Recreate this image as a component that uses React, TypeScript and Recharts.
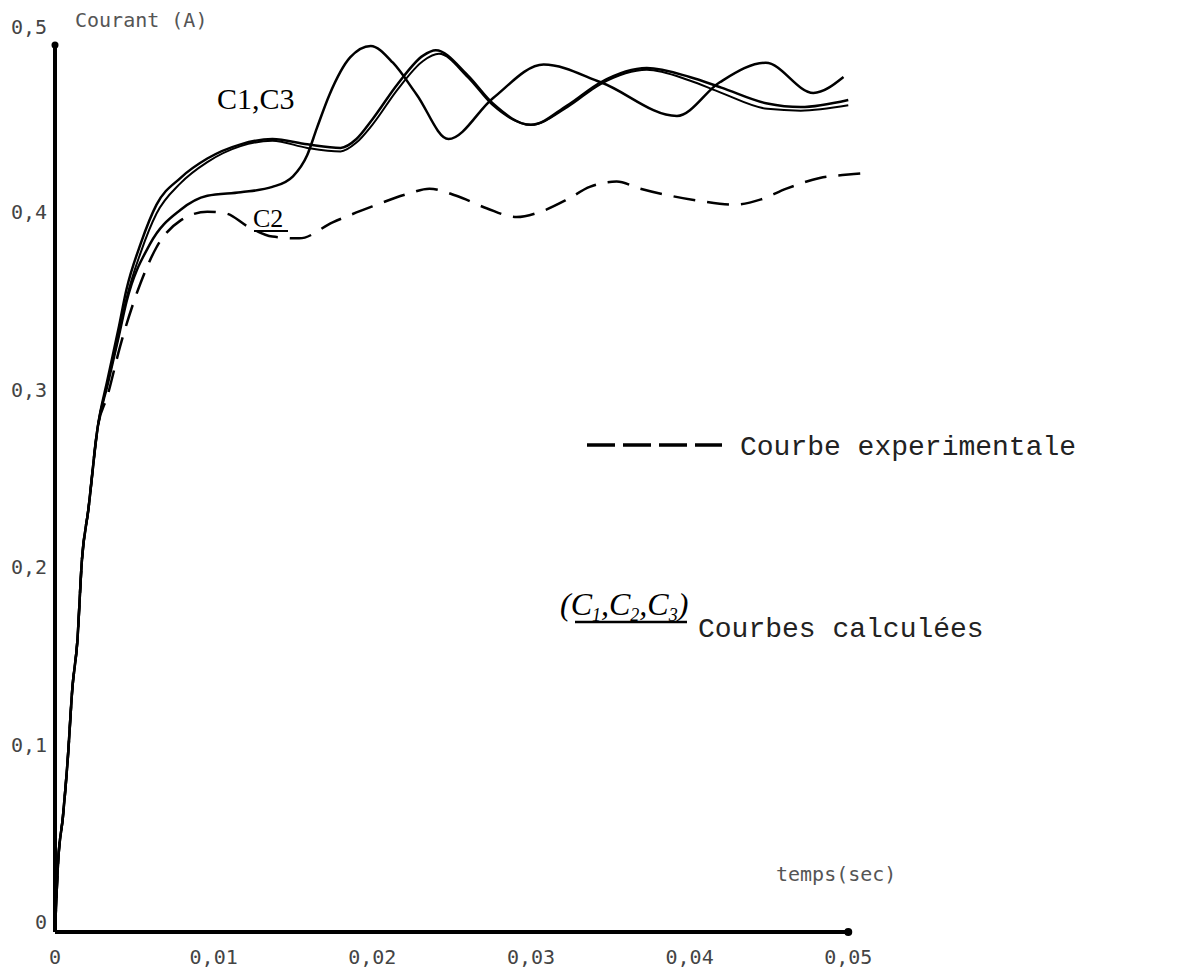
import { LineChart, Line, XAxis, YAxis, ReferenceLine, ReferenceDot, Customized } from 'recharts';

// temps (s) et courant (A)
const riseT = [0, 0.0002, 0.0005, 0.0008, 0.0011, 0.0014, 0.0017, 0.0021, 0.0027];
const riseV = [0, 0.04, 0.065, 0.097, 0.138, 0.163, 0.21, 0.238, 0.285];

const c1T = [0.0033, 0.004, 0.0045, 0.0054, 0.0064, 0.0079, 0.0096, 0.0117, 0.0137, 0.0159, 0.018, 0.019, 0.02, 0.0216, 0.0232, 0.024, 0.026, 0.0276, 0.03, 0.0323, 0.0344, 0.0373, 0.04, 0.042, 0.0449, 0.047, 0.05];
const c1V = [0.311, 0.34, 0.362, 0.388, 0.41, 0.425, 0.436, 0.444, 0.447, 0.444, 0.442, 0.447, 0.458, 0.478, 0.494, 0.497, 0.483, 0.467, 0.455, 0.466, 0.479, 0.487, 0.482, 0.476, 0.467, 0.465, 0.469];

const c3T = [0.0033, 0.004, 0.0045, 0.0054, 0.0064, 0.0079, 0.0096, 0.0117, 0.0137, 0.0159, 0.018, 0.019, 0.02, 0.0216, 0.0232, 0.0242, 0.026, 0.0276, 0.03, 0.0323, 0.0344, 0.0373, 0.04, 0.042, 0.0449, 0.047, 0.05];
const c3V = [0.309, 0.336, 0.357, 0.383, 0.405, 0.422, 0.434, 0.443, 0.446, 0.442, 0.44, 0.445, 0.455, 0.475, 0.491, 0.495, 0.482, 0.466, 0.455, 0.465, 0.478, 0.486, 0.48, 0.473, 0.464, 0.463, 0.466];

const c2T = [0.0033, 0.004, 0.0045, 0.006, 0.0079, 0.0096, 0.0117, 0.0137, 0.015, 0.0159, 0.0165, 0.0173, 0.0186, 0.0199, 0.0213, 0.0228, 0.0248, 0.0276, 0.0308, 0.0344, 0.0392, 0.0419, 0.0448, 0.0478, 0.0497];
const c2V = [0.308, 0.335, 0.355, 0.388, 0.407, 0.415, 0.417, 0.42, 0.426, 0.438, 0.453, 0.472, 0.493, 0.4995, 0.49, 0.472, 0.447, 0.47, 0.489, 0.479, 0.46, 0.479, 0.49, 0.473, 0.482];

const expT = [0.0033, 0.0041, 0.0054, 0.0064, 0.0079, 0.0096, 0.0108, 0.0121, 0.0137, 0.0154, 0.0175, 0.02, 0.0222, 0.0236, 0.0253, 0.0272, 0.0291, 0.0306, 0.0323, 0.0337, 0.0354, 0.0369, 0.0388, 0.0407, 0.0428, 0.0445, 0.0461, 0.0482, 0.05, 0.0514];
const expV = [0.302, 0.33, 0.366, 0.386, 0.401, 0.406, 0.405, 0.398, 0.392, 0.391, 0.4, 0.409, 0.416, 0.419, 0.415, 0.408, 0.403, 0.406, 0.413, 0.42, 0.423, 0.419, 0.415, 0.412, 0.41, 0.413, 0.419, 0.425, 0.427, 0.428];

const xTicks = [0, 0.01, 0.02, 0.03, 0.04, 0.05];
const yTicks = [0, 0.1, 0.2, 0.3, 0.4, 0.5];

const toRows = (ts: number[], vs: number[]) =>
  riseT.concat(ts).map((t, i) => ({ t, v: riseV.concat(vs)[i] }));

const c1Data = toRows(c1T, c1V);
const c3Data = toRows(c3T, c3V);
const c2Data = toRows(c2T, c2V);
const expData = toRows(expT, expV);

const frNum = (n: number) => (n === 0 ? '0' : String(n).replace('.', ','));

const mono = '"DejaVu Sans Mono", monospace';
const typewriter = '"Liberation Mono", "Courier New", monospace';
const hand = '"Liberation Serif", serif';

const XTick = ({ x, y, payload }: any) => (
  <text x={x} y={y} dy={24} textAnchor="middle" fontFamily={mono} fontSize={20} fill="#444">
    {frNum(payload.value)}
  </text>
);

// le libellé du haut est un peu plus décollé de sa graduation
const YTick = ({ x, y, payload }: any) => (
  <text x={x} y={y} dy={payload.value === 0.5 ? -11 : -3} textAnchor="end" fontFamily={mono} fontSize={20} fill="#444">
    {frNum(payload.value)}
  </text>
);

const Annotations = () => (
  <g>
    <text x={67} y={19} fontFamily={mono} fontSize={20} fill="#555">Courant (A)</text>
    <text x={768} y={873} fontFamily={mono} fontSize={20} fill="#555">temps(sec)</text>

    <text x={209} y={101} fontFamily={hand} fontSize={30} fill="#000">C1,C3</text>
    <text x={245} y={219} fontFamily={hand} fontSize={26} fill="#000">C2</text>
    <line x1={246} y1={223} x2={280} y2={223} stroke="#000" strokeWidth={2} />

    <line x1={579} y1={437} x2={714} y2={437} stroke="#000" strokeWidth={3.5} strokeDasharray="28 8" />
    <text x={732} y={447} fontFamily={typewriter} fontSize={28} fill="#222">Courbe experimentale</text>

    <text x={552} y={607} fontFamily={hand} fontStyle="italic" fontSize={32} fill="#000">
      (C<tspan fontSize={18} dy={6}>1</tspan>
      <tspan dy={-6}>,C</tspan><tspan fontSize={18} dy={6}>2</tspan>
      <tspan dy={-6}>,C</tspan><tspan fontSize={18} dy={6}>3</tspan>
      <tspan dy={-6}>)</tspan>
    </text>
    <line x1={567} y1={614} x2={679} y2={614} stroke="#000" strokeWidth={2.5} />
    <text x={690} y={629} fontFamily={typewriter} fontSize={28} fill="#222">Courbes calculées</text>
  </g>
);

const App = () => {
  return (
    <LineChart
      width={1183}
      height={967}
      margin={{ top: 37, right: 311, left: 0, bottom: 3 }}
      style={{ background: '#fff' }}
    >
      <XAxis
        dataKey="t"
        type="number"
        domain={[0, 0.052]}
        ticks={xTicks}
        axisLine={false}
        tickLine={false}
        height={40}
        tick={<XTick />}
        allowDuplicatedCategory={false}
      />
      <YAxis
        dataKey="v"
        type="number"
        domain={[0, 0.5]}
        ticks={yTicks}
        width={47}
        axisLine={{ stroke: '#000', strokeWidth: 4 }}
        tickLine={false}
        tick={<YTick />}
      />
      <ReferenceLine
        segment={[{ x: 0, y: 0 }, { x: 0.05, y: 0 }]}
        stroke="#000"
        strokeWidth={4}
        ifOverflow="visible"
      />
      <ReferenceDot x={0.05} y={0} r={4} fill="#000" stroke="none" ifOverflow="visible" />
      <ReferenceDot x={0} y={0.5} r={3.5} fill="#000" stroke="none" ifOverflow="visible" />

      <Line data={expData} dataKey="v" type="monotone" stroke="#000" strokeWidth={2.5} strokeDasharray="22 12" dot={false} isAnimationActive={false} />
      <Line data={c2Data} dataKey="v" type="monotone" stroke="#000" strokeWidth={2.5} dot={false} isAnimationActive={false} />
      <Line data={c3Data} dataKey="v" type="monotone" stroke="#000" strokeWidth={2} dot={false} isAnimationActive={false} />
      <Line data={c1Data} dataKey="v" type="monotone" stroke="#000" strokeWidth={2.5} dot={false} isAnimationActive={false} />

      <Customized component={Annotations} />
    </LineChart>
  );
};

export default App;
